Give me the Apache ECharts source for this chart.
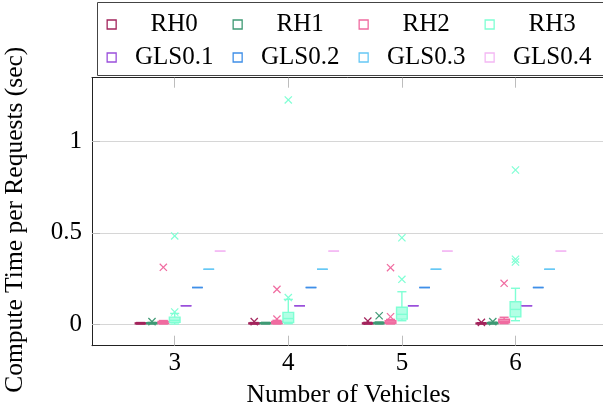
<!DOCTYPE html>
<html><head><meta charset="utf-8">
<script src="https://cdn.jsdelivr.net/npm/echarts@6/dist/echarts.min.js"></script>
<style>html,body{margin:0;padding:0;background:#fff}#c{width:603px;height:417px}</style>
</head><body><div id="c"></div>
<script>
// ---------- data ----------
const categories = [3, 4, 5, 6];
const seriesNames = ['RH0', 'RH1', 'RH2', 'RH3', 'GLS0.1', 'GLS0.2', 'GLS0.3', 'GLS0.4'];
const yTickValues = [0, 0.5, 1];
const yTickLabels = ['0', '0.5', '1'];
const xLabel = 'Number of Vehicles';
const yLabel = 'Compute Time per Requests (sec)';

// box statistics per category: [min, q1, median, q3, max]
const rh0Box = [[0, 0.001, 0.003, 0.006, 0.008], [0, 0.001, 0.003, 0.006, 0.008], [0, 0.001, 0.003, 0.006, 0.009], [0, 0.001, 0.003, 0.005, 0.007]];
const rh1Box = [[0, 0.002, 0.004, 0.007, 0.009], [0, 0.002, 0.004, 0.007, 0.009], [0, 0.002, 0.004, 0.008, 0.011], [0, 0.002, 0.004, 0.008, 0.01]];
const rh2Box = [[0, 0.003, 0.008, 0.014, 0.019], [0, 0.003, 0.007, 0.014, 0.02], [0, 0.004, 0.01, 0.018, 0.025], [0.002, 0.007, 0.015, 0.026, 0.037]];
const rh3Box = [[0, 0.009, 0.02, 0.038, 0.058], [0.002, 0.008, 0.03, 0.064, 0.135], [0.018, 0.027, 0.053, 0.092, 0.177], [0.018, 0.04, 0.08, 0.122, 0.196]];
const gls01Box = [[0.1, 0.1, 0.1, 0.1, 0.1], [0.1, 0.1, 0.1, 0.1, 0.1], [0.1, 0.1, 0.1, 0.1, 0.1], [0.1, 0.1, 0.1, 0.1, 0.1]];
const gls02Box = [[0.2, 0.2, 0.2, 0.2, 0.2], [0.2, 0.2, 0.2, 0.2, 0.2], [0.2, 0.2, 0.2, 0.2, 0.2], [0.2, 0.2, 0.2, 0.2, 0.2]];
const gls03Box = [[0.3, 0.3, 0.3, 0.3, 0.3], [0.3, 0.3, 0.3, 0.3, 0.3], [0.3, 0.3, 0.3, 0.3, 0.3], [0.3, 0.3, 0.3, 0.3, 0.3]];
const gls04Box = [[0.4, 0.4, 0.4, 0.4, 0.4], [0.4, 0.4, 0.4, 0.4, 0.4], [0.4, 0.4, 0.4, 0.4, 0.4], [0.4, 0.4, 0.4, 0.4, 0.4]];

// outliers per category
const rh0Outliers = [[], [0.013], [0.016], [0.009]];
const rh1Outliers = [[0.013], [], [0.045], [0.013]];
const rh2Outliers = [[0.311], [0.027, 0.19], [0.04, 0.309], [0.223]];
const rh3Outliers = [[0.066, 0.483], [0.145, 1.229], [0.245, 0.473], [0.34, 0.355, 0.845]];
const gls01Outliers = [[], [], [], []];
const gls02Outliers = [[], [], [], []];
const gls03Outliers = [[], [], [], []];
const gls04Outliers = [[], [], [], []];

// ---------- styling / layout ----------
const colors = ['#a3245c', '#3f9a75', '#f06ba0', '#7fffd4', '#9a4fdb', '#3f8fe8', '#66c8f5', '#f4b8f4'];
const groupOffsets = [-0.3, -0.2, -0.1, 0, 0.1, 0.2, 0.3, 0.4];
const BOX_HALF = 0.047;
const CAP_HALF = 0.04;
const FONT = "'Liberation Serif', 'Times New Roman', serif";

const boxes = [rh0Box, rh1Box, rh2Box, rh3Box, gls01Box, gls02Box, gls03Box, gls04Box];
const outliers = [rh0Outliers, rh1Outliers, rh2Outliers, rh3Outliers, gls01Outliers, gls02Outliers, gls03Outliers, gls04Outliers];

function boxRender(color) {
  const fill = echarts.color.modifyAlpha(color, 0.6);
  return function (params, api) {
    const x = api.value(0);
    const pMin = api.coord([x, api.value(1)]);
    const pQ1 = api.coord([x, api.value(2)]);
    const pMed = api.coord([x, api.value(3)]);
    const pQ3 = api.coord([x, api.value(4)]);
    const pMax = api.coord([x, api.value(5)]);
    const l = api.coord([x - BOX_HALF, 0])[0];
    const r = api.coord([x + BOX_HALF, 0])[0];
    const cl = api.coord([x - CAP_HALF, 0])[0];
    const cr = api.coord([x + CAP_HALF, 0])[0];
    const cx = pMed[0];
    const ls = { stroke: color, lineWidth: 1.4 };
    const children = [];
    if (pMax[1] < pQ3[1]) {
      children.push({ type: 'line', shape: { x1: cx, y1: pQ3[1], x2: cx, y2: pMax[1] }, style: ls });
      children.push({ type: 'line', shape: { x1: cl, y1: pMax[1], x2: cr, y2: pMax[1] }, style: ls });
    }
    if (pMin[1] > pQ1[1]) {
      children.push({ type: 'line', shape: { x1: cx, y1: pQ1[1], x2: cx, y2: pMin[1] }, style: ls });
      children.push({ type: 'line', shape: { x1: cl, y1: pMin[1], x2: cr, y2: pMin[1] }, style: ls });
    }
    children.push({ type: 'rect', shape: { x: l, y: pQ3[1], width: r - l, height: pQ1[1] - pQ3[1] }, style: { fill: fill, stroke: color, lineWidth: 1.4 } });
    children.push({ type: 'line', shape: { x1: l, y1: pMed[1], x2: r, y2: pMed[1] }, style: ls });
    return { type: 'group', children: children };
  };
}

function outlierRender(color) {
  return function (params, api) {
    const p = api.coord([api.value(0), api.value(1)]);
    const s = 3.6;
    const st = { stroke: color, lineWidth: 1.2 };
    return {
      type: 'group', children: [
        { type: 'line', shape: { x1: p[0] - s, y1: p[1] - s, x2: p[0] + s, y2: p[1] + s }, style: st },
        { type: 'line', shape: { x1: p[0] - s, y1: p[1] + s, x2: p[0] + s, y2: p[1] - s }, style: st }
      ]
    };
  };
}

const series = [];
seriesNames.forEach(function (name, i) {
  const boxData = categories.map(function (c, j) { return [c + groupOffsets[i]].concat(boxes[i][j]); });
  series.push({
    name: name, type: 'custom', renderItem: boxRender(colors[i]),
    encode: { x: 0, y: [1, 2, 3, 4, 5] }, data: boxData, itemStyle: { color: colors[i] }, z: 2 + i
  });
  const outData = [];
  categories.forEach(function (c, j) { outliers[i][j].forEach(function (v) { outData.push([c + groupOffsets[i], v]); }); });
  series.push({
    name: name, type: 'custom', renderItem: outlierRender(colors[i]),
    encode: { x: 0, y: 1 }, data: outData, itemStyle: { color: colors[i] }, z: 2 + i
  });
});

// legend: 4 columns x 2 rows, one vertical legend per column
const LEGEND_COL_W = 126;
const legends = [0, 1, 2, 3].map(function (k) {
  return {
    orient: 'vertical',
    left: 106.5 + k * LEGEND_COL_W, top: 12,
    padding: 0,
    itemWidth: 9, itemHeight: 9, itemGap: 8,
    formatter: '{a|{name}}',
    textStyle: { fontFamily: FONT, fontSize: 25, color: '#000', rich: { a: { width: 106, align: 'center', fontFamily: FONT, fontSize: 25, lineHeight: 24, height: 24 } } },
    data: [k, k + 4].map(function (i) {
      return { name: seriesNames[i], icon: 'rect', itemStyle: { color: 'rgba(255,255,255,0)', borderColor: colors[i], borderWidth: 1.3 } };
    })
  };
});

const chart = echarts.init(document.getElementById('c'), null, { renderer: 'canvas' });
const axisLineStyle = { color: '#222', width: 1 };
const tickStyle = { color: '#bdbdbd', width: 1 };
chart.setOption({
  animation: false,
  backgroundColor: '#fff',
  graphic: [{
    type: 'rect', left: 97, top: 2, z: 0, silent: true,
    shape: { width: 530, height: 73 },
    style: { fill: '#fff', stroke: '#444', lineWidth: 1 }
  }],
  legend: legends,
  grid: { left: 92, top: 77.7, width: 513, height: 268, outerBoundsMode: 'none', containLabel: false },
  xAxis: [{
    type: 'value', min: 2.272, max: 6.788, position: 'bottom',
    axisLine: { show: true, onZero: false, lineStyle: axisLineStyle },
    axisTick: { show: true, inside: true, length: 10, customValues: categories, lineStyle: tickStyle },
    axisLabel: { customValues: categories, fontFamily: FONT, fontSize: 25, color: '#000', margin: 5 },
    splitLine: { show: false },
    name: xLabel, nameLocation: 'middle', nameGap: 37,
    nameTextStyle: { fontFamily: FONT, fontSize: 25.5, color: '#000' }
  }, {
    type: 'value', min: 2.272, max: 6.788, position: 'top',
    axisLine: { show: true, onZero: false, lineStyle: axisLineStyle },
    axisTick: { show: true, inside: true, length: 10, customValues: categories, lineStyle: tickStyle },
    axisLabel: { show: false }, splitLine: { show: false }
  }],
  yAxis: {
    type: 'value', min: -0.119, max: 1.351,
    axisLine: { show: true, onZero: false, lineStyle: axisLineStyle },
    axisTick: { show: true, inside: true, length: 8, customValues: yTickValues, lineStyle: tickStyle },
    axisLabel: {
      customValues: yTickValues, fontFamily: FONT, fontSize: 25, color: '#000', margin: 10,
      formatter: function (v) { const k = yTickValues.indexOf(v); return k >= 0 ? yTickLabels[k] : ''; }
    },
    splitLine: { show: true, customValues: yTickValues, lineStyle: { color: '#d6d6d6', width: 1 } },
    name: yLabel, nameLocation: 'middle', nameGap: 64,
    nameTextStyle: { fontFamily: FONT, fontSize: 25.5, color: '#000', padding: [0, 16, 0, 0] }
  },
  series: series
});
</script></body></html>
